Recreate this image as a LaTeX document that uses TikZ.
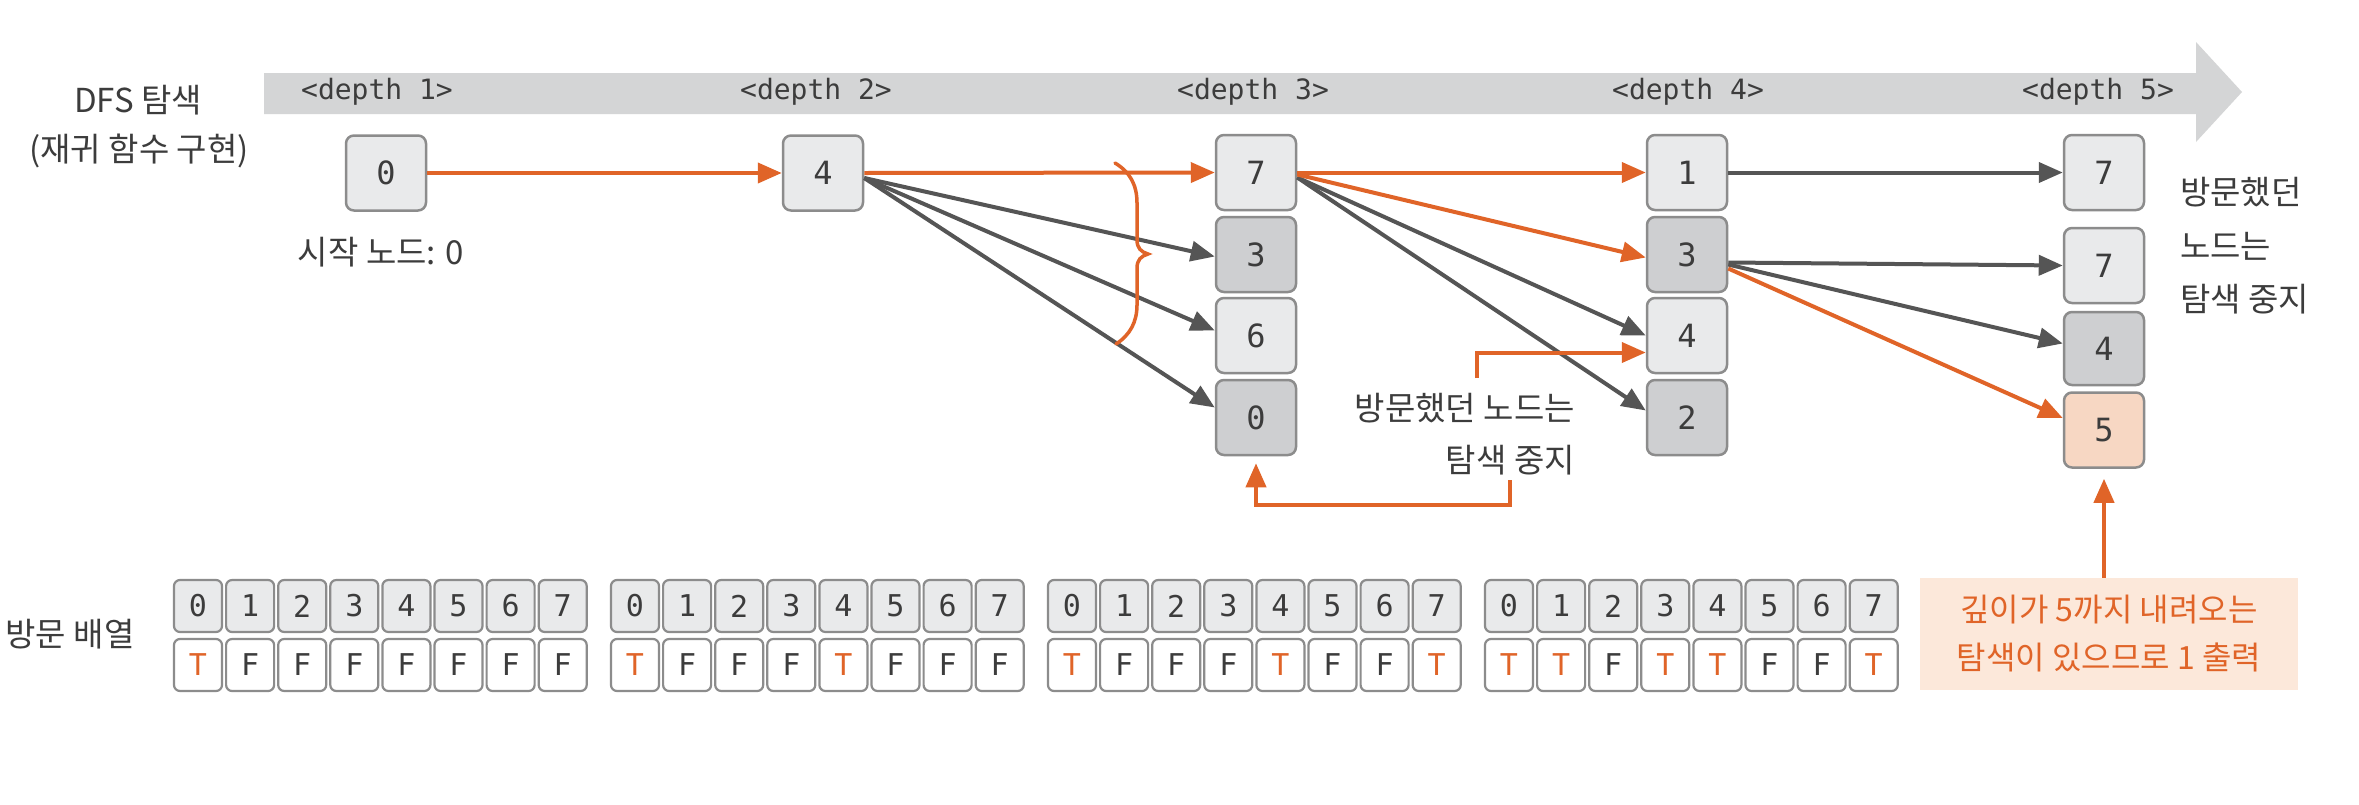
\documentclass[tikz,border=0pt]{standalone}
\usepackage{fontspec}
\setmainfont{Noto Sans CJK KR}
\newfontfamily\monof{DejaVu Sans Mono}
\usetikzlibrary{arrows.meta,calc}
\definecolor{org}{RGB}{224,100,40}
\definecolor{garrow}{RGB}{85,85,85}
\definecolor{bdr}{RGB}{140,140,140}
\definecolor{lfill}{RGB}{233,234,235}
\definecolor{dfill}{RGB}{206,207,209}
\definecolor{pfill}{RGB}{247,215,195}
\definecolor{cfill}{RGB}{252,232,218}
\definecolor{bandc}{RGB}{212,213,214}
\definecolor{txt}{RGB}{60,60,60}
\colorlet{cT}{org}
\colorlet{cF}{txt}
\begin{document}
\begin{tikzpicture}[x=1pt,y=-1pt,
  nbox/.style={rectangle,rounded corners=8pt,draw=bdr,line width=2.5pt,minimum width=80pt,minimum height=75pt,inner sep=0pt,fill=lfill,font=\monof\fontsize{32}{36}\selectfont,text=txt},
  dk/.style={fill=dfill},
  pk/.style={fill=pfill},
  topcell/.style={rectangle,rounded corners=6pt,draw=bdr,line width=2.2pt,minimum width=48pt,minimum height=52pt,inner sep=0pt,fill=lfill,font=\monof\fontsize{30}{34}\selectfont,text=txt},
  botcell/.style={topcell,fill=white},
  lbl/.style={inner sep=0pt,font=\fontsize{33}{40}\selectfont,text=txt},
  dlbl/.style={inner sep=0pt,font=\monof\fontsize{28}{32}\selectfont,text=txt},
  oline/.style={draw=org,line width=4pt,-{Triangle[length=24pt,width=20pt]}},
  gline/.style={draw=garrow,line width=4pt,-{Triangle[length=24pt,width=20pt]}},
  callout/.style={rectangle,fill=cfill,minimum width=378pt,minimum height=112pt,inner sep=0pt,align=center,text=org,font=\fontsize{32}{48}\selectfont}
]
\useasboundingbox (0,0) rectangle (2359,804);
\fill[white] (0,0) rectangle (2359,804);

% top band arrow
\fill[bandc] (264,73) -- (2196,73) -- (2196,42) -- (2242,92) -- (2196,142) -- (2196,114) -- (264,114) -- cycle;
\node[dlbl] (dp1) at (377,92) {<depth 1>};
\node[dlbl] (dp2) at (816,92) {<depth 2>};
\node[dlbl] (dp3) at (1253,92) {<depth 3>};
\node[dlbl] (dp4) at (1688,92) {<depth 4>};
\node[dlbl] (dp5) at (2098,92) {<depth 5>};

% left labels
\node[lbl] (dfs) at (138,100) {DFS 탐색};
\node[lbl] (impl) at (139,151) {(재귀 함수 구현)};
\node[lbl] (arr) at (70,634) {방문 배열};

% nodes
\node[nbox] (n0) at (386,173) {0};
\node[lbl] (start) at (381,252) {시작 노드: 0};
\node[nbox] (n4) at (823,173) {4};

\node[nbox] (c7) at (1256,172.5) {7};
\node[nbox,dk] (c3) at (1256,254.5) {3};
\node[nbox] (c6) at (1256,335.5) {6};
\node[nbox,dk] (c0) at (1256,417.5) {0};

\node[nbox] (d1) at (1687,172.5) {1};
\node[nbox,dk] (d3) at (1687,254.5) {3};
\node[nbox] (d4) at (1687,335.5) {4};
\node[nbox,dk] (d2) at (1687,417.5) {2};

\node[nbox] (e7a) at (2104,172.5) {7};
\node[nbox] (e7b) at (2104,265.5) {7};
\node[nbox,dk,minimum height=73pt] (e4) at (2104,348.5) {4};
\node[nbox,pk] (e5) at (2104,430) {5};

% texts
\node[lbl,anchor=east] (t1) at (1575,408) {방문했던 노드는};
\node[lbl,anchor=east] (t2) at (1575,460) {탐색 중지};
\node[lbl,anchor=west] (r1) at (2180,192) {방문했던};
\node[lbl,anchor=west] (r2) at (2180,246) {노드는};
\node[lbl,anchor=west] (r3) at (2180,299) {탐색 중지};

% connectors depth1-2-3
\draw[oline] (n0.east) -- (n4.west);
\draw[gline] ([yshift=-5pt]n4.east) -- ([yshift=-2pt]c3.west);
\draw[gline] ([yshift=-5pt]n4.east) -- ([yshift=5pt]c6.west);
\draw[gline] ([yshift=-5pt]n4.east) -- ([yshift=10pt]c0.west);
\draw[oline] (n4.east) -- (c7.west);

% brace
\draw[org,line width=3.5pt,line cap=round] (1115,163) .. controls (1130,172) and (1137,185) .. (1137,203) -- (1137,240) .. controls (1137,248) and (1141,252) .. (1148,254) .. controls (1141,256) and (1137,260) .. (1137,268) -- (1137,305) .. controls (1137,322) and (1130,335) .. (1116,344);

% depth3-4
\draw[gline] ([yshift=-5pt]c7.east) -- (d4.west);
\draw[gline] ([yshift=-5pt]c7.east) -- ([yshift=7pt]d2.west);
\draw[oline] (c7.east) -- (d1.west);
\draw[oline] ([yshift=-2pt]c7.east) -- ([yshift=-3pt]d3.west);

% depth4-5
\draw[gline] (d1.east) -- (e7a.west);
\draw[gline] ([yshift=-8pt]d3.east) -- (e7b.west);
\draw[gline] ([yshift=-10pt]d3.east) -- ([yshift=5pt]e4.west);
\draw[oline] ([yshift=-14pt]d3.east) -- ([yshift=12pt]e5.west);

% elbow arrows
\coordinate (s1) at (1477,378);
\draw[oline] (s1) |- ([yshift=-17pt]d4.west);
\coordinate (s2) at (1510,480);
\draw[oline,shorten >=7pt] (s2) -- (1510,505) -| (c0.south);

% callout
\node[callout] (call) at (2109,634) {깊이가 5까지 내려오는\\탐색이 있으므로 1 출력};
\draw[oline,shorten >=10pt] (call.north -| e5.south) -- (e5.south);

% visit arrays
\foreach \g/\lst in {0/{T,F,F,F,F,F,F,F},1/{T,F,F,F,T,F,F,F},2/{T,F,F,F,T,F,F,T},3/{T,T,F,T,T,F,F,T}} {
  \foreach \v [count=\i from 0] in \lst {
    \pgfmathsetmacro\xx{198+437*\g+52.1*\i}
    \node[topcell] (t\g-\i) at (\xx,606) {\i};
    \node[botcell] (b\g-\i) at (\xx,665) {\color{c\v}\v};
  }
}
\end{tikzpicture}
\end{document}
